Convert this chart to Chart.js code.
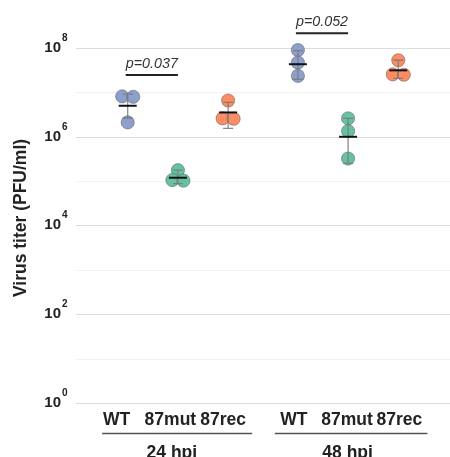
<!DOCTYPE html>
<html lang="en">
<head>
<meta charset="UTF-8">
<title>Virus titer</title>
<script src="https://cdn.jsdelivr.net/npm/chart.js"></script>
<style>
  body { margin: 0; background: #fff; }
  #wrap { width: 450px; height: 457px; }
</style>
</head>
<body>
<div id="wrap"><canvas id="myChart" width="450" height="457"></canvas></div>
<script>
// data (PFU/ml)
const strains = ['WT', '87mut', '87rec'];
const timepoints = ['24 hpi', '48 hpi'];
const titerWT    = [[8.3e6, 8.1e6, 2.15e6], [9.2e7, 4.8e7, 2.4e7]];
const titerMut   = [[1.8e5, 1.08e5, 1.05e5], [2.65e6, 1.37e6, 3.3e5]];
const titerRec   = [[6.7e6, 2.65e6, 2.6e6], [5.4e7, 2.6e7, 2.55e7]];
const meanWT  = [5.1e6, 4.4e7];
const meanMut = [1.22e5, 1.02e6];
const meanRec = [3.6e6, 3.2e7];
const errLowWT  = [2.7e6, 2.0e7];
const errHighWT = [9.3e6, 8.9e7];
const errLowMut  = [0.9e5, 2.6e5];
const errHighMut = [1.8e5, 2.65e6];
const errLowRec  = [1.58e6, 2.1e7];
const errHighRec = [6.05e6, 5.4e7];
const pValues = ['p=0.037', 'p=0.052'];
const bracketY = [2.5e7, 2.2e8];
const yTickExp = [0, 2, 4, 6, 8];

const colors = ['#8DA0CB', '#66C2A5', '#FC8D62'];
const groupGap = 0.39;
function xOf(t, s) { return 1.03 + t * (3 + groupGap) + s; }

// simple beeswarm: spread points that would overlap
function swarm(vals) {
  const logs = vals.map(Math.log10);
  return vals.map((v, i) => {
    const near = logs.filter((l, j) => j !== i && Math.abs(l - logs[i]) < 0.2).length;
    if (!near) return 0;
    const before = logs.filter((l, j) => j < i && Math.abs(l - logs[i]) < 0.2).length;
    return before === 0 ? -0.11 : 0.11;
  });
}

const titers = [titerWT, titerMut, titerRec];
const means = [meanWT, meanMut, meanRec];
const lows = [errLowWT, errLowMut, errLowRec];
const highs = [errHighWT, errHighMut, errHighRec];

const datasets = strains.map((name, s) => {
  const pts = [];
  timepoints.forEach((tp, t) => {
    const vals = titers[s][t];
    const off = swarm(vals);
    vals.forEach((v, i) => pts.push({x: xOf(t, s) + off[i], y: v}));
  });
  return {
    label: name,
    data: pts,
    backgroundColor: colors[s],
    borderColor: 'rgba(70,70,70,0.55)',
    borderWidth: 0.8,
    pointRadius: 6.6
  };
});

const overlay = {
  id: 'overlay',
  afterDatasetsDraw(chart) {
    const ctx = chart.ctx, xs = chart.scales.x, ys = chart.scales.y;
    ctx.save();
    strains.forEach((name, s) => {
      timepoints.forEach((tp, t) => {
        const px = xs.getPixelForValue(xOf(t, s));
        const lo = ys.getPixelForValue(lows[s][t]);
        const hi = ys.getPixelForValue(highs[s][t]);
        const m = ys.getPixelForValue(means[s][t]);
        ctx.strokeStyle = 'rgba(120,120,120,0.85)';
        ctx.lineWidth = 1.3;
        ctx.beginPath();
        ctx.moveTo(px, lo); ctx.lineTo(px, hi);
        ctx.moveTo(px - 5, lo); ctx.lineTo(px + 5, lo);
        ctx.moveTo(px - 5, hi); ctx.lineTo(px + 5, hi);
        ctx.stroke();
        ctx.strokeStyle = '#111';
        ctx.lineWidth = 2;
        ctx.beginPath();
        ctx.moveTo(px - 9, m); ctx.lineTo(px + 9, m);
        ctx.stroke();
      });
    });
    ctx.restore();
  },
  afterDraw(chart) {
    const ctx = chart.ctx, xs = chart.scales.x, ys = chart.scales.y;
    ctx.save();
    ctx.fillStyle = '#222';
    // y tick labels with superscripts
    yTickExp.forEach(e => {
      const py = ys.getPixelForValue(Math.pow(10, e));
      ctx.font = 'bold 15px "Liberation Sans", Arial, sans-serif';
      ctx.textAlign = 'right';
      ctx.textBaseline = 'alphabetic';
      ctx.fillText('10', 61, py + 3.5);
      ctx.font = 'bold 10px "Liberation Sans", Arial, sans-serif';
      ctx.textAlign = 'left';
      ctx.fillText(String(e), 62, py - 7.5);
    });
    // y title
    ctx.save();
    ctx.translate(26, 218);
    ctx.rotate(-Math.PI / 2);
    ctx.font = 'bold 17.5px "Liberation Sans", Arial, sans-serif';
    ctx.textAlign = 'center';
    ctx.fillText('Virus titer (PFU/ml)', 0, 0);
    ctx.restore();
    // category labels
    const labelShift = [[-0.22, -0.15, -0.1], [-0.08, -0.02, 0.02]];
    ctx.font = 'bold 17.5px "Liberation Sans", Arial, sans-serif';
    ctx.textAlign = 'center';
    timepoints.forEach((tp, t) => {
      strains.forEach((name, s) => {
        ctx.fillText(name, xs.getPixelForValue(xOf(t, s) + labelShift[t][s]), 425);
      });
    });
    // group underlines + labels
    const groupSpan = [[0.52, 3.51], [3.96, 7.0]];
    const groupCenter = [1.91, 5.41];
    ctx.strokeStyle = '#555';
    ctx.lineWidth = 1.5;
    timepoints.forEach((tp, t) => {
      ctx.beginPath();
      ctx.moveTo(xs.getPixelForValue(groupSpan[t][0]), 433.5);
      ctx.lineTo(xs.getPixelForValue(groupSpan[t][1]), 433.5);
      ctx.stroke();
      ctx.fillText(tp, xs.getPixelForValue(groupCenter[t]), 457.5);
    });
    // significance brackets
    ctx.strokeStyle = '#222';
    ctx.lineWidth = 2;
    ctx.font = 'italic 14.3px "Liberation Sans", Arial, sans-serif';
    ctx.fillStyle = '#333';
    timepoints.forEach((tp, t) => {
      const x1 = xs.getPixelForValue(xOf(t, 0)) - 2;
      const x2 = xs.getPixelForValue(xOf(t, 1));
      const py = ys.getPixelForValue(bracketY[t]);
      ctx.beginPath();
      ctx.moveTo(x1, py); ctx.lineTo(x2, py);
      ctx.stroke();
      ctx.fillText(pValues[t], (x1 + x2) / 2, py - 7);
    });
    ctx.restore();
  }
};

new Chart(document.getElementById('myChart'), {
  type: 'scatter',
  data: { datasets: datasets },
  options: {
    responsive: false,
    animation: false,
    layout: { autoPadding: false, padding: { left: 76, right: 0, top: 4, bottom: 53.5 } },
    plugins: { legend: { display: false }, tooltip: { enabled: false } },
    scales: {
      x: { type: 'linear', min: 0, max: 7.45, display: false },
      y: {
        type: 'logarithmic',
        min: 1,
        max: 1e9,
        afterBuildTicks: scale => {
          scale.ticks = [0, 1, 2, 3, 4, 5, 6, 7, 8, 9].map(e => ({value: Math.pow(10, e)}));
        },
        ticks: { display: false },
        border: { display: false },
        grid: {
          drawTicks: false,
          lineWidth: 1,
          color: c => {
            const e = Math.round(Math.log10(c.tick.value));
            if (e === 9) return 'rgba(0,0,0,0)';
            return e % 2 === 0 ? '#dcdcdc' : '#f1f1f1';
          }
        }
      }
    }
  },
  plugins: [overlay]
});
</script>
</body>
</html>
